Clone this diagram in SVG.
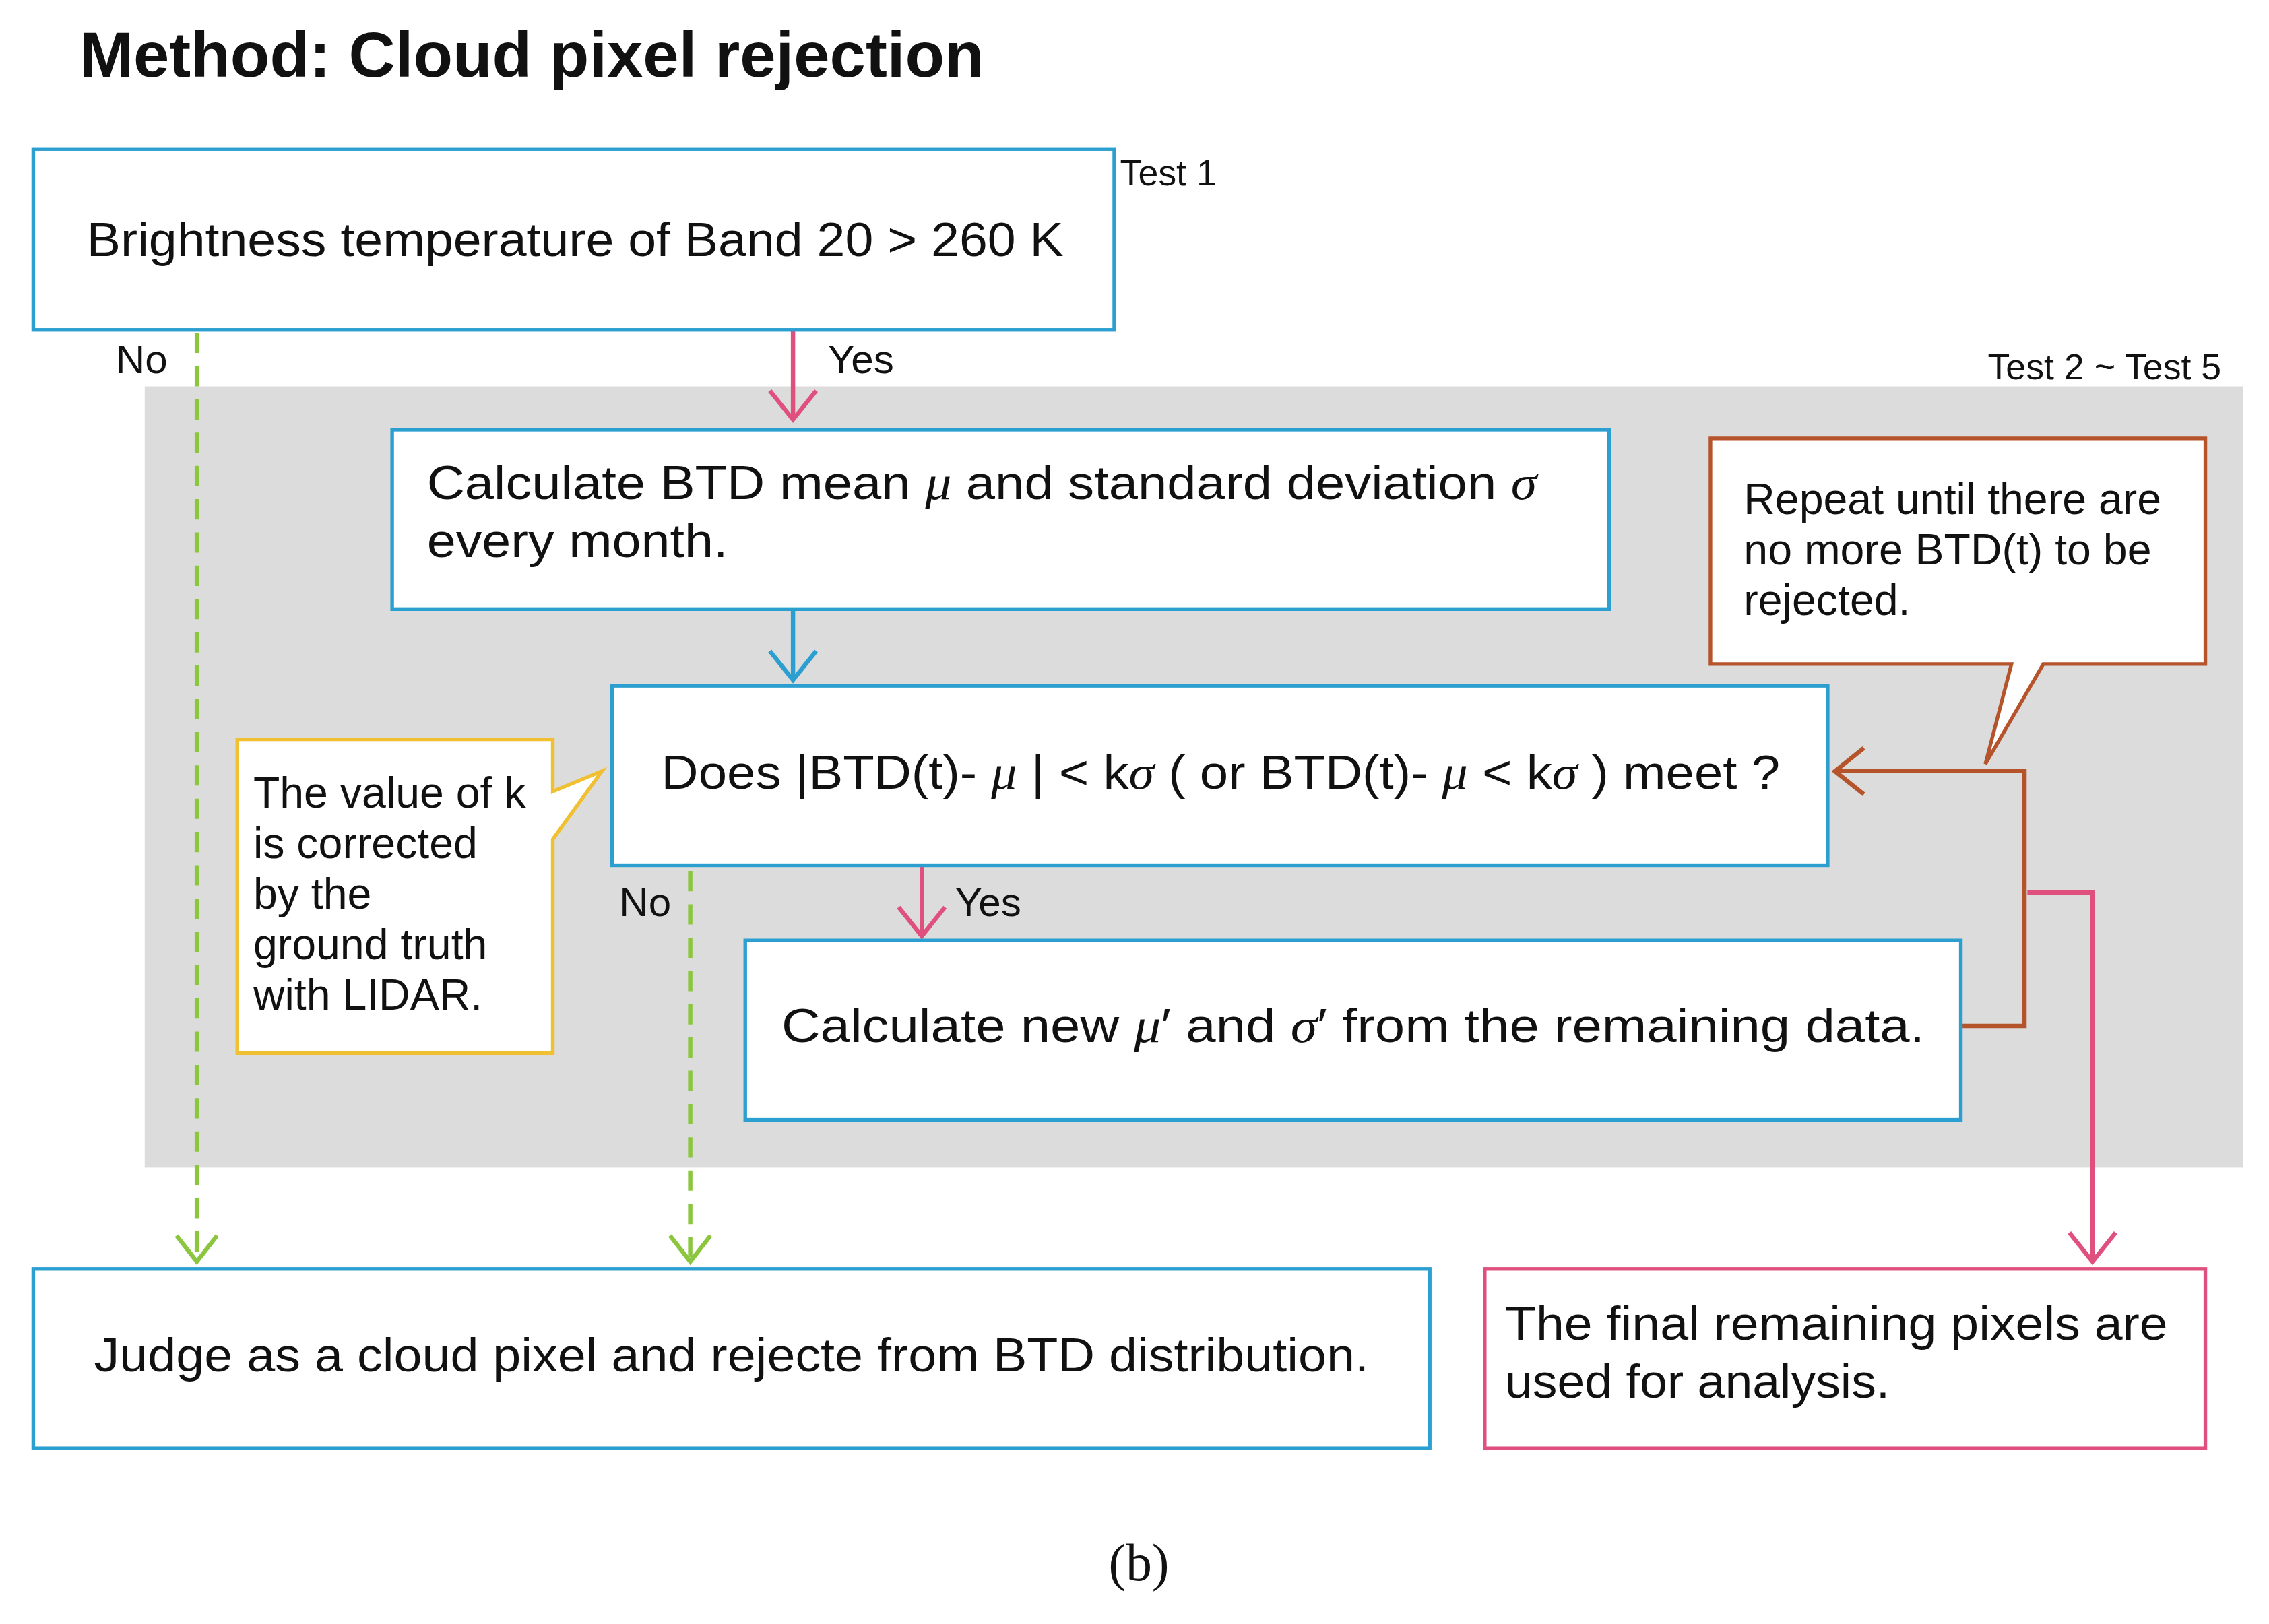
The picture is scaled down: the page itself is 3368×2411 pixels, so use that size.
<svg xmlns="http://www.w3.org/2000/svg" width="3368" height="2411" viewBox="0 0 3368 2411">
<style>
text{font-family:"Liberation Sans",Arial,sans-serif;fill:#111}
.bx{fill:#fff;stroke:#2a9fd0;stroke-width:2.5}
.t{font-size:33px}
.s{font-size:25px}
.l{font-size:28px}
.c{font-size:30px}
</style>
<defs>
<marker id="mp" viewBox="0 0 20 14" refX="10" refY="12" markerWidth="20" markerHeight="14" markerUnits="userSpaceOnUse" orient="auto-start-reverse"><path d="M1,1 L10,12 L19,1" fill="none" stroke="#e0507f" stroke-width="3"/></marker>
</defs>
<rect width="3368" height="2411" fill="#fff"/>
<g transform="scale(2.148)">
<text x="55" y="53" style="font-size:44px;font-weight:bold" textLength="625" lengthAdjust="spacingAndGlyphs">Method: Cloud pixel rejection</text>
<rect x="100" y="267" width="1450" height="540" fill="#dcdcdc"/>
<text x="1535" y="262" class="s" text-anchor="end">Test 2 ~ Test 5</text>
<g id="connectors" fill="none" stroke-width="3">
<path d="M136,230 V870" stroke="#8cc63f" stroke-dasharray="14,9"/>
<path d="M122,854 L136,872 L150,854" stroke="#8cc63f"/>
<path d="M477,602 V870" stroke="#8cc63f" stroke-dasharray="14,9"/>
<path d="M463,854 L477,872 L491,854" stroke="#8cc63f"/>
<path d="M548,228 V289" stroke="#e0507f"/>
<path d="M532,270 L548,290 L564,270" stroke="#e0507f"/>
<path d="M548,421 V468" stroke="#2a9fd0"/>
<path d="M532,450 L548,470 L564,450" stroke="#2a9fd0"/>
<path d="M637,598 V645" stroke="#e0507f"/>
<path d="M621,627 L637,647 L653,627" stroke="#e0507f"/>
<path d="M1355,709 H1399 V533 H1270" stroke="#b5532a"/>
<path d="M1288,517 L1268,533 L1288,549" stroke="#b5532a"/>
<path d="M1401,617 H1446 V870" stroke="#e0507f"/>
<path d="M1430,852 L1446,872 L1462,852" stroke="#e0507f"/>
</g>
<text x="80" y="258" class="l">No</text>
<text x="572" y="258" class="l">Yes</text>
<text x="428" y="633" class="l">No</text>
<text x="660" y="633" class="l">Yes</text>
<g id="test1">
<rect x="23" y="103" width="747" height="125" class="bx"/>
<text x="60" y="177" class="t" textLength="675" lengthAdjust="spacingAndGlyphs">Brightness temperature of Band 20 &gt; 260 K</text>
<text x="774" y="128" class="s">Test 1</text>
</g>
<g id="calc">
<rect x="271" y="297" width="841" height="124" class="bx"/>
<text x="295" y="345" class="t" textLength="767" lengthAdjust="spacingAndGlyphs">Calculate BTD mean <tspan font-style="italic" font-family="Liberation Serif">μ</tspan> and standard deviation <tspan font-style="italic" font-family="Liberation Serif">σ</tspan></text>
<text x="295" y="385" class="t" textLength="208" lengthAdjust="spacingAndGlyphs">every month.</text>
</g>
<g id="does">
<rect x="423" y="474" width="840" height="124" class="bx"/>
<text x="457" y="545" class="t" textLength="773" lengthAdjust="spacingAndGlyphs">Does |BTD(t)- <tspan font-style="italic" font-family="Liberation Serif">μ</tspan> | &lt; k<tspan font-style="italic" font-family="Liberation Serif">σ</tspan>  ( or BTD(t)- <tspan font-style="italic" font-family="Liberation Serif">μ</tspan> &lt; k<tspan font-style="italic" font-family="Liberation Serif">σ</tspan>  ) meet ?</text>
</g>
<g id="new">
<rect x="515" y="650" width="840" height="124" class="bx"/>
<text x="540" y="720" class="t" textLength="790" lengthAdjust="spacingAndGlyphs">Calculate new <tspan font-style="italic" font-family="Liberation Serif">μ</tspan>′ and <tspan font-style="italic" font-family="Liberation Serif">σ</tspan>′ from the remaining data.</text>
</g>
<g id="repeat">
<path d="M1182,303 H1524 V459 H1412 L1372,528 L1390,459 H1182 Z" fill="#fff" stroke="#b5532a" stroke-width="2.5"/>
<text x="1205" y="355" class="c">Repeat until there are</text>
<text x="1205" y="390" class="c">no more BTD(t) to be</text>
<text x="1205" y="425" class="c">rejected.</text>
</g>
<g id="kvalue">
<path d="M164,511 H382 V547 L416,533 L382,580 V728 H164 Z" fill="#fff" stroke="#f0c030" stroke-width="2.5"/>
<text x="175" y="558" class="c">The value of k</text>
<text x="175" y="593" class="c">is corrected</text>
<text x="175" y="628" class="c">by the</text>
<text x="175" y="663" class="c">ground truth</text>
<text x="175" y="698" class="c">with LIDAR.</text>
</g>
<g id="judge">
<rect x="23" y="877" width="965" height="124" class="bx"/>
<text x="65" y="948" class="t" textLength="881" lengthAdjust="spacingAndGlyphs">Judge as a cloud pixel and rejecte from BTD distribution.</text>
</g>
<g id="final">
<rect x="1026" y="877" width="498" height="124" fill="#fff" stroke="#e0507f" stroke-width="2.5"/>
<text x="1040" y="926" class="t" textLength="458" lengthAdjust="spacingAndGlyphs">The final remaining pixels are</text>
<text x="1040" y="966" class="t" textLength="266" lengthAdjust="spacingAndGlyphs">used for analysis.</text>
</g>
<text x="787" y="1092" text-anchor="middle" style="font-family:'Liberation Serif',serif;font-size:36px">(b)</text>
</g>
</svg>
